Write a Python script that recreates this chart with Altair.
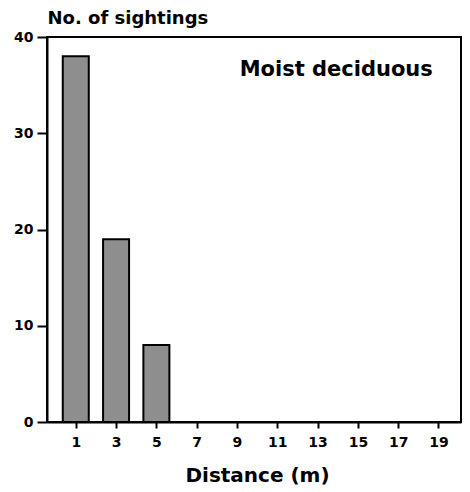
import altair as alt
import pandas as pd

distance = [1, 3, 5, 7, 9, 11, 13, 15, 17, 19]
sightings = [38, 19, 8, 0, 0, 0, 0, 0, 0, 0]
y_ticks = [0, 10, 20, 30, 40]
panel_label = ["Moist deciduous"]

df = pd.DataFrame({"distance": distance, "sightings": sightings})
lab = pd.DataFrame({"label": panel_label, "lx": [18.72], "ly": [36.0]})

FONT = "DejaVu Sans"

bars = alt.Chart(df).mark_bar(
    size=26, fill="#8e8e8e", stroke="black", strokeWidth=2
).encode(
    x=alt.X("distance:Q",
            scale=alt.Scale(domain=[-0.18, 19.87], nice=False, zero=False),
            axis=alt.Axis(values=distance, title="Distance (m)", grid=False,
                          tickSize=6, tickWidth=2, tickColor="black",
                          domainColor="black", domainWidth=2,
                          labelFont=FONT, labelFontWeight="bold", labelFontSize=14,
                          labelColor="black", labelPadding=7,
                          titleFont=FONT, titleFontWeight="bold", titleFontSize=20,
                          titleColor="black", titleBaseline="alphabetic",
                          titleY=59, titleX=210, titleAlign="center")),
    y=alt.Y("sightings:Q",
            scale=alt.Scale(domain=[0, 40], nice=False),
            axis=alt.Axis(values=y_ticks, title="No. of sightings", grid=False,
                          tickSize=10, tickWidth=2, tickColor="black",
                          domainColor="black", domainWidth=2,
                          labelFont=FONT, labelFontWeight="bold", labelFontSize=14,
                          labelColor="black", labelPadding=4,
                          titleFont=FONT, titleFontWeight="bold", titleFontSize=18,
                          titleColor="black", titleAngle=0, titleAlign="left",
                          titleBaseline="alphabetic", titleX=0, titleY=-14)),
)

text = alt.Chart(lab).mark_text(
    font=FONT, fontWeight="bold", fontSize=21, align="right",
    baseline="alphabetic", color="black"
).encode(
    x=alt.X("lx:Q"),
    y=alt.Y("ly:Q"),
    text="label:N",
)

chart = (bars + text).properties(
    width=414, height=385,
    background="white",
    autosize=alt.AutoSizeParams(type="none"),
    padding={"left": 39, "top": 29, "right": 1, "bottom": 67},
).configure_view(stroke="black", strokeWidth=2)

chart.save("out.html", embed_options={"renderer": "svg", "actions": False})
